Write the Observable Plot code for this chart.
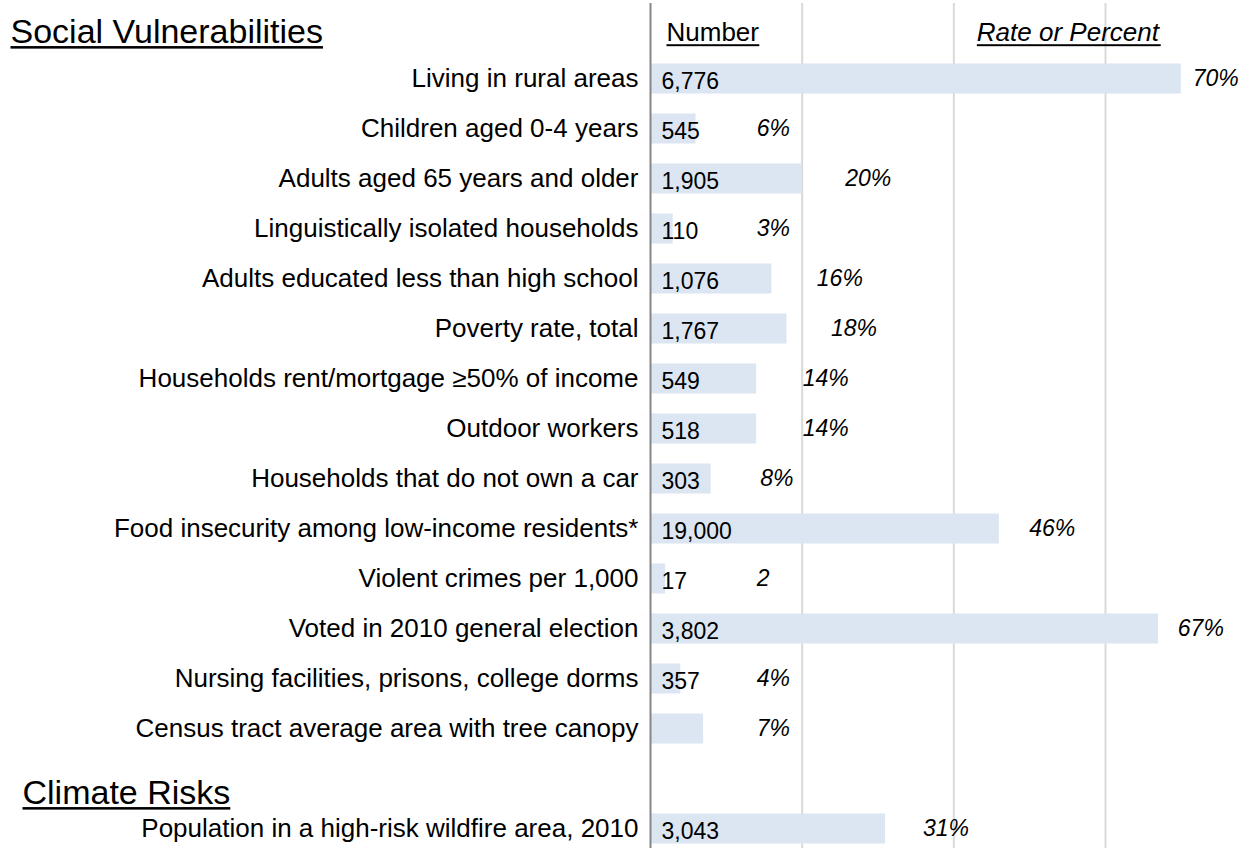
<!DOCTYPE html>
<html>
<head>
<meta charset="utf-8">
<script src="https://cdn.jsdelivr.net/npm/d3@7"></script>
<script src="https://cdn.jsdelivr.net/npm/@observablehq/plot@0.6"></script>
<style>
  html, body { margin: 0; padding: 0; background: #fff; overflow: hidden; }
  #chart svg { display: block; }
</style>
</head>
<body>
<div id="chart"></div>
<script>
// ---- data ----
const categories = [
  "Living in rural areas",
  "Children aged 0-4 years",
  "Adults aged 65 years and older",
  "Linguistically isolated households",
  "Adults educated less than high school",
  "Poverty rate, total",
  "Households rent/mortgage ≥50% of income",
  "Outdoor workers",
  "Households that do not own a car",
  "Food insecurity among low-income residents*",
  "Violent crimes per 1,000",
  "Voted in 2010 general election",
  "Nursing facilities, prisons, college dorms",
  "Census tract average area with tree canopy",
  "Population in a high-risk wildfire area, 2010"
];
const sections = [
  "Social Vulnerabilities", "Social Vulnerabilities", "Social Vulnerabilities",
  "Social Vulnerabilities", "Social Vulnerabilities", "Social Vulnerabilities",
  "Social Vulnerabilities", "Social Vulnerabilities", "Social Vulnerabilities",
  "Social Vulnerabilities", "Social Vulnerabilities", "Social Vulnerabilities",
  "Social Vulnerabilities", "Social Vulnerabilities",
  "Climate Risks"
];
const sectionNames = ["Social Vulnerabilities", "Climate Risks"];
const numberLabels = ["6,776", "545", "1,905", "110", "1,076", "1,767", "549", "518", "303", "19,000", "17", "3,802", "357", "", "3,043"];
const rates = [70, 6, 20, 3, 16, 18, 14, 14, 8, 46, 2, 67, 4, 7, 31];
const rateLabels = ["70%", "6%", "20%", "3%", "16%", "18%", "14%", "14%", "8%", "46%", "2", "67%", "4%", "7%", "31%"];
const columnHeaders = ["Number", "Rate or Percent"];
const gridTicks = [20, 40, 60];

// ---- table built from the arrays ----
const rows = categories.map((category, i) => ({
  category,
  number: numberLabels[i],
  rate: rates[i],
  rateLabel: rateLabels[i],
  row: i + sectionNames.indexOf(sections[i])
}));
const headers = sectionNames.map(name => ({
  name,
  row: rows[sections.indexOf(name)].row - 1
}));

const font = "'Liberation Sans', Arial, Helvetica, sans-serif";
const xMax = 77.8;
// rate label placement: a gap after the bar that narrows for long bars,
// a common minimum column for short bars, and kept inside the right edge
const rateLabelX = d => Math.min(Math.max(d.rate + 7 - d.rate / 15, 14), xMax - 6.3);

const chart = Plot.plot({
  width: 1240,
  height: 848,
  marginLeft: 650,
  marginRight: 0,
  marginTop: 3,
  marginBottom: 0,
  style: { fontFamily: font, color: "#000", background: "#fff", overflow: "visible" },
  x: { domain: [0, xMax], axis: null },
  y: { domain: [-1.51, 15.39], reverse: true, axis: null },
  marks: [
    Plot.ruleX(gridTicks, { stroke: "#d9d9d9", strokeWidth: 2 }),
    Plot.rect(rows, {
      x1: d => 0, x2: "rate",
      y1: d => d.row - 0.3, y2: d => d.row + 0.3,
      fill: "#dce6f2"
    }),
    Plot.ruleX([0], { stroke: "#868686", strokeWidth: 2 }),
    // category labels
    Plot.text(rows, {
      x: d => 0, y: "row", text: "category",
      textAnchor: "end", dx: -12, fontSize: 26, fill: "#000"
    }),
    // numbers
    Plot.text(rows, {
      x: d => 0, y: "row", text: "number",
      textAnchor: "start", dx: 11, dy: 3, fontSize: 23, fill: "#000"
    }),
    // rates
    Plot.text(rows, {
      x: rateLabelX, y: "row", text: "rateLabel",
      textAnchor: "start", fontStyle: "italic", fontSize: 23, fill: "#000"
    }),
    // section headers
    Plot.text(headers.slice(0, 1), {
      x: d => 0, y: "row", text: "name",
      textAnchor: "start", dx: -640, dy: 3, fontSize: 34, fill: "#000",
      ariaLabel: "section header"
    }),
    Plot.text(headers.slice(1), {
      x: d => 0, y: "row", text: "name",
      textAnchor: "start", dx: -628, dy: 14, fontSize: 34, fill: "#000",
      ariaLabel: "section header"
    }),
    // column headers
    Plot.text(columnHeaders.slice(0, 1), {
      x: d => 0, y: d => headers[0].row, text: d => d,
      textAnchor: "start", dx: 16, dy: 4, fontSize: 26, fill: "#000",
      ariaLabel: "column header"
    }),
    Plot.text(columnHeaders.slice(1), {
      x: d => gridTicks[1], y: d => headers[0].row, text: d => d,
      textAnchor: "start", dx: 23, dy: 4, fontSize: 26, fontStyle: "italic", fill: "#000",
      ariaLabel: "column header"
    })
  ]
});

document.getElementById("chart").appendChild(chart);

// underline the section and column headers (measured from the rendered text)
const underlined = new Set([...sectionNames, ...columnHeaders]);
const svgBox = chart.getBoundingClientRect();
const lines = [];
d3.select(chart).selectAll("text").each(function () {
  if (!underlined.has(this.textContent.trim())) return;
  const r = this.getBoundingClientRect();
  const fs = parseFloat(getComputedStyle(this).fontSize) || 26;
  const baseline = r.top - svgBox.top + r.height * (0.905 / 1.117);
  lines.push({
    x: r.left - svgBox.left,
    y: baseline + fs * 0.1,
    w: r.width,
    h: Math.max(1.5, fs * 0.075)
  });
});
d3.select(chart).append("g").attr("aria-label", "underlines")
  .selectAll("rect").data(lines).join("rect")
  .attr("x", d => d.x).attr("y", d => d.y)
  .attr("width", d => d.w).attr("height", d => d.h)
  .attr("fill", "#000");
</script>
</body>
</html>
